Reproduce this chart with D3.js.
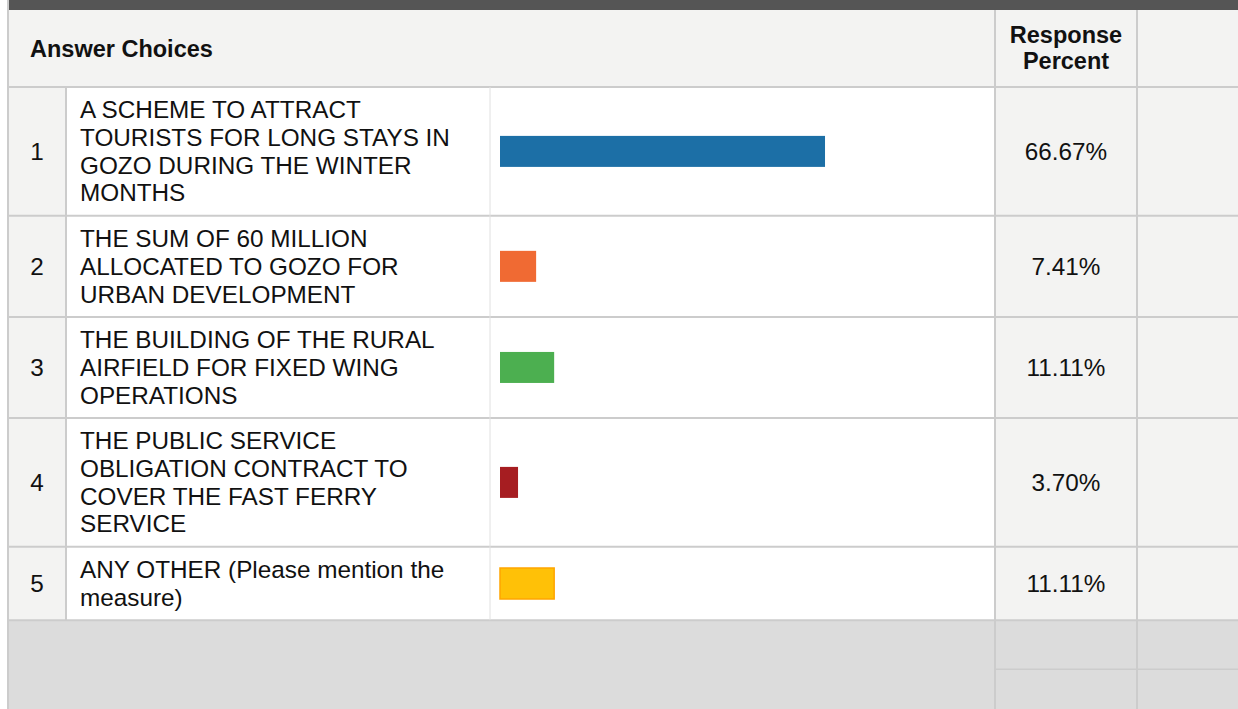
<!DOCTYPE html>
<html>
<head>
<meta charset="utf-8">
<script src="https://cdn.jsdelivr.net/npm/d3@7"></script>
<style>
  html, body { margin: 0; padding: 0; background: #fff; }
  svg { display: block; font-family: "Liberation Sans", Arial, sans-serif; }
</style>
</head>
<body>
<script>
// Data
const choiceNumbers = ["1", "2", "3", "4", "5"];
const choiceLabels = [
  "A SCHEME TO ATTRACT\nTOURISTS FOR LONG STAYS IN\nGOZO DURING THE WINTER\nMONTHS",
  "THE SUM OF 60 MILLION\nALLOCATED TO GOZO FOR\nURBAN DEVELOPMENT",
  "THE BUILDING OF THE RURAL\nAIRFIELD FOR FIXED WING\nOPERATIONS",
  "THE PUBLIC SERVICE\nOBLIGATION CONTRACT TO\nCOVER THE FAST FERRY\nSERVICE",
  "ANY OTHER (Please mention the\nmeasure)"
];
const responsePercent = [66.67, 7.41, 11.11, 3.70, 11.11];
const barColors = ["#1c6fa6", "#f06a33", "#4caf50", "#a61d21", "#ffc107"];
const headerLabels = ["Answer Choices", "Response\nPercent"];

// Dimensions
const width = 1238;
const height = 709;
const fontSize = 24.3;
const headFont = 23.5;
const lineH = 27.7;
const headerTop = 10;
const headerBottom = 87;
const rowPad = 18;

// column edges
const colNum = 8, colText = 66, colBar = 490, colPct = 995, colLast = 1137;
const gridColor = "#cccccc";
const shade = "#f3f3f2";

const rows = choiceLabels.map((lab, i) => ({
  num: choiceNumbers[i],
  lines: lab.split("\n"),
  pct: responsePercent[i],
  color: barColors[i]
}));
let yAcc = headerBottom;
rows.forEach(r => {
  r.y0 = yAcc;
  r.h = r.lines.length * lineH + rowPad;
  yAcc += r.h;
});
const tableBottom = yAcc;

// Scale for the bars
const x = d3.scaleLinear().domain([0, 100]).range([colBar + 10, colBar + 10 + 487.5]);

const svg = d3.select("body").append("svg")
  .attr("width", width)
  .attr("height", height);

// top dark strip
svg.append("rect").attr("x", 9).attr("y", 0).attr("width", width - 9).attr("height", headerTop).attr("fill", "#555555");

// header
svg.append("rect").attr("x", 9).attr("y", headerTop).attr("width", width - 9).attr("height", headerBottom - headerTop).attr("fill", shade);

// footer
svg.append("rect").attr("x", 9).attr("y", tableBottom).attr("width", width - 9).attr("height", height - tableBottom).attr("fill", "#dcdcdc");

// row backgrounds
const rowG = svg.selectAll("g.row").data(rows).enter().append("g").attr("class", "row");
rowG.append("rect").attr("x", colNum).attr("y", d => d.y0).attr("width", colText - colNum).attr("height", d => d.h).attr("fill", shade);
rowG.append("rect").attr("x", colPct).attr("y", d => d.y0).attr("width", width - colPct).attr("height", d => d.h).attr("fill", shade);

// grid lines
const grid = svg.append("g").attr("stroke", gridColor).attr("stroke-width", 2);
grid.append("line").attr("x1", 8).attr("x2", 8).attr("y1", 0).attr("y2", height);
[headerBottom, ...rows.map(r => r.y0 + r.h)].forEach(y =>
  grid.append("line").attr("x1", 8).attr("x2", width).attr("y1", y).attr("y2", y));
[colPct, colLast].forEach(cx =>
  grid.append("line").attr("x1", cx).attr("x2", cx).attr("y1", headerTop).attr("y2", height));
grid.append("line").attr("x1", colText).attr("x2", colText).attr("y1", headerBottom).attr("y2", tableBottom);
grid.append("line").attr("x1", colBar).attr("x2", colBar).attr("y1", headerBottom).attr("y2", tableBottom)
  .attr("stroke", "#e0e0e0").attr("stroke-width", 1);
grid.append("line").attr("x1", colPct).attr("x2", width).attr("y1", tableBottom + 49).attr("y2", tableBottom + 49)
  .attr("stroke-width", 1.5);

// header text
svg.append("text").attr("x", 30).attr("y", (headerTop + headerBottom) / 2).attr("dy", "0.35em")
  .attr("font-size", headFont).attr("font-weight", "bold").attr("fill", "#111").text(headerLabels[0]);
const hLines = headerLabels[1].split("\n");
svg.append("text").attr("text-anchor", "middle").attr("font-size", headFont).attr("font-weight", "bold").attr("fill", "#111")
  .selectAll("tspan").data(hLines).enter().append("tspan")
  .attr("x", (colPct + colLast) / 2)
  .attr("y", (d, i) => (headerTop + headerBottom) / 2 - 1 + (i - (hLines.length - 1) / 2) * 26)
  .attr("dy", "0.35em").text(d => d);

// numbers
rowG.append("text").attr("x", (colNum + colText) / 2).attr("y", d => d.y0 + d.h / 2).attr("dy", "0.35em")
  .attr("text-anchor", "middle").attr("font-size", fontSize).attr("fill", "#111").text(d => d.num);

// labels
rowG.append("text").attr("font-size", fontSize).attr("fill", "#111")
  .each(function(d) {
    d3.select(this).selectAll("tspan").data(d.lines).enter().append("tspan")
      .attr("x", 80)
      .attr("y", (l, i) => d.y0 + d.h / 2 + (i - (d.lines.length - 1) / 2) * lineH)
      .attr("dy", "0.35em").text(l => l);
  });

// bars
const barH = 31;
rowG.append("rect")
  .attr("x", x(0))
  .attr("y", d => d.y0 + d.h / 2 - barH / 2)
  .attr("width", d => x(d.pct) - x(0))
  .attr("height", barH)
  .attr("fill", d => d.color)
  .attr("stroke", (d, i) => i === 4 ? "#ffa500" : "none")
  .attr("stroke-width", 1.5);

// percentages
rowG.append("text").attr("x", (colPct + colLast) / 2).attr("y", d => d.y0 + d.h / 2).attr("dy", "0.35em")
  .attr("text-anchor", "middle").attr("font-size", fontSize).attr("fill", "#111")
  .text(d => d.pct.toFixed(2) + "%");
</script>
</body>
</html>
